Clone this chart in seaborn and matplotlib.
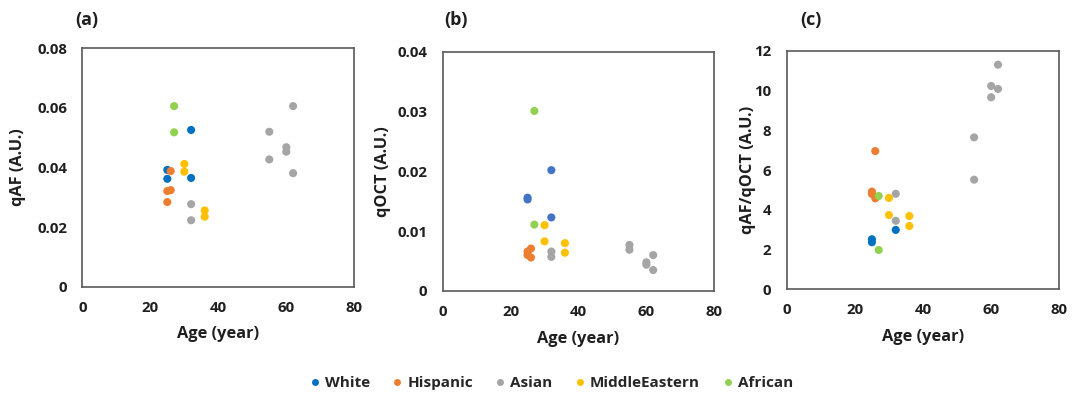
import numpy as np
import pandas as pd
import matplotlib
matplotlib.use("Agg")
import matplotlib.pyplot as plt
from matplotlib.lines import Line2D
import seaborn as sns

sns.set_theme(style="white")
plt.rcParams["font.family"] = ["Open Sans", "DejaVu Sans"]
plt.rcParams["font.weight"] = "bold"

groups = ["White", "Hispanic", "Asian", "MiddleEastern", "African"]
colors = ["#0070C0", "#ED7D31", "#A5A5A5", "#FFC000", "#92D050"]

# (a) qAF
qaf_age = {
    "White": [25, 25, 32, 32],
    "Hispanic": [26, 25, 26, 25],
    "Asian": [32, 32, 55, 55, 60, 60, 62, 62],
    "MiddleEastern": [30, 30, 36, 36],
    "African": [27, 27],
}
qaf_val = {
    "White": [0.0392, 0.0362, 0.0526, 0.0365],
    "Hispanic": [0.0388, 0.0321, 0.0324, 0.0284],
    "Asian": [0.0277, 0.0223, 0.0520, 0.0427, 0.0468, 0.0453, 0.0606, 0.0381],
    "MiddleEastern": [0.0412, 0.0386, 0.0256, 0.0235],
    "African": [0.0606, 0.0518],
}

# (b) qOCT
qoct_age = {
    "White": [25, 25, 32, 32],
    "Hispanic": [26, 25, 25, 26],
    "Asian": [32, 32, 55, 55, 60, 60, 62, 62],
    "MiddleEastern": [30, 30, 36, 36],
    "African": [27, 27],
}
qoct_val = {
    "White": [0.0156, 0.0153, 0.0202, 0.0123],
    "Hispanic": [0.0071, 0.0066, 0.0060, 0.0056],
    "Asian": [0.0066, 0.0057, 0.0077, 0.0069, 0.0048, 0.0044, 0.0060, 0.0035],
    "MiddleEastern": [0.0110, 0.0083, 0.0080, 0.0064],
    "African": [0.0301, 0.0111],
}

# (c) qAF/qOCT
ratio_age = {
    "White": [25, 25, 32],
    "Hispanic": [26, 25, 25, 26],
    "Asian": [32, 32, 55, 55, 60, 60, 62, 62],
    "MiddleEastern": [30, 30, 36, 36],
    "African": [27, 27],
}
ratio_val = {
    "White": [2.52, 2.37, 2.99],
    "Hispanic": [6.96, 4.92, 4.80, 4.58],
    "Asian": [4.81, 3.45, 7.65, 5.52, 10.24, 9.67, 11.31, 10.09],
    "MiddleEastern": [4.60, 3.74, 3.69, 3.19],
    "African": [4.70, 1.98],
}

x_ticks = [0, 20, 40, 60, 80]


def long_frame(ages, vals):
    rows = []
    for g in groups:
        for a, v in zip(ages[g], vals[g]):
            rows.append({"Age": a, "Value": v, "Group": g})
    return pd.DataFrame(rows)


W, H = 1075, 395
fig = plt.figure(figsize=(W / 100, H / 100), dpi=100)


def px_axes(left, top, right, bottom):
    return fig.add_axes([left / W, 1 - bottom / H, (right - left) / W, (bottom - top) / H])


panels = [
    dict(box=(82.3, 48.3, 354.3, 286.7), ages=qaf_age, vals=qaf_val,
         ylim=0.08, yticks=[0, 0.02, 0.04, 0.06, 0.08],
         ylabels=["0", "0.02", "0.04", "0.06", "0.08"],
         ylabel="qAF (A.U.)", ylab_x=-0.236, title="(a)", title_x=87,
         pal=colors),
    dict(box=(442.7, 51.7, 714.3, 291.0), ages=qoct_age, vals=qoct_val,
         ylim=0.04, yticks=[0, 0.01, 0.02, 0.03, 0.04],
         ylabels=["0", "0.01", "0.02", "0.03", "0.04"],
         ylabel="qOCT (A.U.)", ylab_x=-0.22, title="(b)", title_x=456,
         pal=["#4472C4"] + colors[1:]),
    dict(box=(786.7, 51.0, 1059.3, 289.3), ages=ratio_age, vals=ratio_val,
         ylim=12, yticks=[0, 2, 4, 6, 8, 10, 12],
         ylabels=["0", "2", "4", "6", "8", "10", "12"],
         ylabel="qAF/qOCT (A.U.)", ylab_x=-0.142, title="(c)", title_x=811,
         pal=colors),
]

for p in panels:
    ax = px_axes(*p["box"])
    df = long_frame(p["ages"], p["vals"])
    sns.scatterplot(data=df, x="Age", y="Value", hue="Group", hue_order=groups,
                    palette=p["pal"], s=34, linewidth=0, legend=False, ax=ax,
                    zorder=3)
    ax.set_xlim(0, 80)
    ax.set_ylim(0, p["ylim"])
    ax.set_xticks(x_ticks)
    ax.set_xticklabels([str(t) for t in x_ticks])
    ax.set_yticks(p["yticks"])
    ax.set_yticklabels(p["ylabels"])
    ax.tick_params(axis="both", length=0, labelsize=10.8, colors="#1f1f1f")
    ax.tick_params(axis="x", pad=10)
    ax.tick_params(axis="y", pad=11)
    for lab in ax.get_xticklabels() + ax.get_yticklabels():
        lab.set_fontweight("bold")
    for sp in ax.spines.values():
        sp.set_visible(True)
        sp.set_color("#595959")
        sp.set_linewidth(1.2)
    ax.grid(False)
    ax.set_xlabel("Age (year)", fontsize=11.8, fontweight="bold", color="#1f1f1f")
    ax.xaxis.set_label_coords(0.5, -0.2)
    ax.xaxis.label.set_va("center")
    ax.set_ylabel(p["ylabel"], fontsize=11.8, fontweight="bold", color="#1f1f1f")
    ax.yaxis.set_label_coords(p["ylab_x"], 0.5)
    ax.yaxis.label.set_va("center")
    fig.text(p["title_x"] / W, 1 - 20 / H, p["title"], ha="center", va="center",
             fontsize=13, fontweight="bold", color="#1f1f1f")

handles = [Line2D([], [], marker="o", linestyle="", markersize=5,
                  markerfacecolor=c, markeredgewidth=0, label=g)
           for g, c in zip(groups, colors)]
fig.legend(handles=handles, loc="center", bbox_to_anchor=(550 / W, 1 - 383 / H),
           ncol=5, frameon=False, handletextpad=0.15,
           columnspacing=1.3, handlelength=1.0,
           prop={"weight": "bold", "size": 11})

fig.savefig("out.png", dpi=100, facecolor="white")
